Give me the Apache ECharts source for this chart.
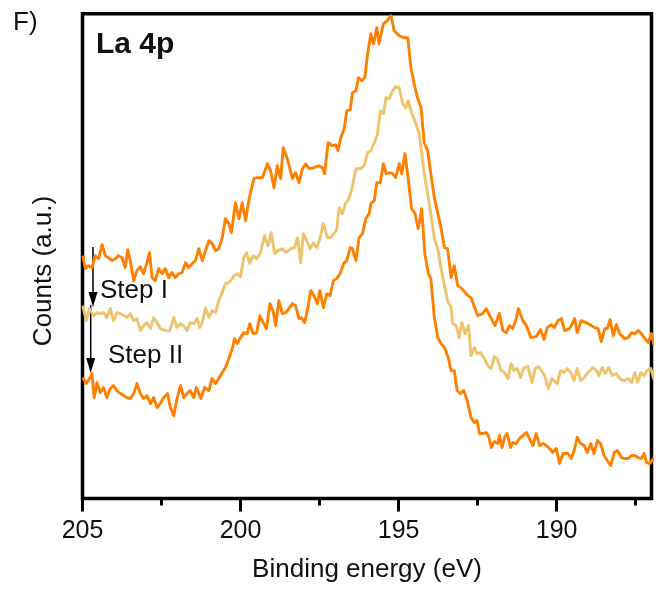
<!DOCTYPE html>
<html>
<head>
<meta charset="utf-8">
<script src="https://cdn.jsdelivr.net/npm/echarts@6/dist/echarts.min.js"></script>
<style>html,body{margin:0;padding:0;background:#fff}#c{width:656px;height:590px}</style>
</head>
<body>
<div id="c"></div>
<script>
// Binding energy (eV) and counts (a.u.)
const energyTop = [204.99,204.91,204.81,204.70,204.60,204.49,204.38,204.28,204.18,204.07,203.96,203.86,203.75,203.65,203.57,203.49,203.38,203.28,203.17,203.07,202.96,202.88,202.80,202.70,202.59,202.48,202.38,202.27,202.17,202.06,201.96,201.85,201.74,201.64,201.53,201.43,201.32,201.21,201.11,201.00,200.90,200.79,200.69,200.58,200.48,200.37,200.29,200.16,200.05,199.95,199.84,199.74,199.58,199.47,199.31,199.15,199.05,198.94,198.84,198.73,198.65,198.52,198.36,198.26,198.15,198.04,197.94,197.83,197.68,197.52,197.41,197.34,197.23,197.09,196.99,196.92,196.83,196.72,196.64,196.53,196.46,196.35,196.27,196.16,196.07,195.98,195.88,195.79,195.69,195.62,195.48,195.37,195.24,195.14,194.98,194.82,194.71,194.61,194.51,194.40,194.29,194.19,194.08,193.98,193.87,193.76,193.66,193.55,193.45,193.34,193.24,193.13,193.03,192.81,192.71,192.50,192.34,192.23,192.07,191.95,191.81,191.70,191.60,191.49,191.39,191.28,191.21,191.07,190.96,190.81,190.65,190.51,190.40,190.30,190.17,190.07,189.96,189.85,189.75,189.59,189.43,189.35,189.22,189.01,188.80,188.69,188.59,188.48,188.40,188.31,188.21,188.11,188.01,187.85,187.74,187.63,187.53,187.42,187.32,187.21,187.10,187.00,186.92];
const countsTop = [243,230,233,231,243,240,254,243,241,238,240,243,241,231,249,238,218,228,232,225,236,246,221,218,230,225,230,221,226,221,225,226,236,231,235,238,250,238,248,258,255,248,250,261,280,275,266,296,280,296,278,298,320,321,321,335,328,311,333,320,351,340,320,326,316,330,335,330,331,333,331,325,356,353,354,348,361,370,388,389,406,408,421,418,421,445,465,455,471,455,475,478,483,468,463,461,461,431,415,401,391,356,348,325,301,285,271,251,250,221,233,213,211,203,201,183,185,190,180,173,185,168,166,173,170,180,190,178,173,161,162,169,159,171,174,171,178,180,168,170,180,166,178,175,171,170,157,170,170,179,163,174,165,160,161,166,165,168,165,160,156,165,153];

const energyMid = [204.99,204.88,204.78,204.65,204.54,204.44,204.33,204.23,204.12,204.02,203.91,203.80,203.70,203.59,203.49,203.38,203.28,203.17,203.07,202.96,202.85,202.75,202.64,202.54,202.38,202.24,202.11,202.01,201.90,201.80,201.69,201.59,201.48,201.37,201.29,201.21,201.11,201.00,200.90,200.79,200.69,200.58,200.48,200.37,200.26,200.21,200.10,200.00,199.90,199.81,199.71,199.60,199.49,199.37,199.24,199.13,199.03,198.92,198.82,198.68,198.57,198.41,198.29,198.20,198.10,198.01,197.91,197.80,197.69,197.59,197.49,197.38,197.25,197.15,197.02,196.96,196.88,196.78,196.67,196.60,196.49,196.35,196.20,196.09,195.98,195.88,195.77,195.67,195.58,195.48,195.40,195.30,195.19,195.09,194.98,194.87,194.77,194.70,194.59,194.45,194.35,194.29,194.19,194.08,193.98,193.87,193.76,193.66,193.55,193.45,193.34,193.29,193.18,193.08,193.00,192.90,192.79,192.71,192.60,192.52,192.41,192.29,192.18,192.07,191.97,191.88,191.76,191.65,191.54,191.44,191.35,191.25,191.14,191.04,190.91,190.78,190.68,190.57,190.47,190.38,190.26,190.15,190.09,189.98,189.88,189.77,189.66,189.56,189.45,189.35,189.24,189.13,189.01,188.85,188.74,188.67,188.56,188.46,188.35,188.25,188.11,188.01,187.87,187.74,187.63,187.53,187.44,187.34,187.23,187.13,187.02,186.92];
const countsMid = [193,178,190,183,186,185,186,181,190,178,186,185,183,181,185,178,180,168,173,176,170,181,176,170,168,168,181,171,175,173,168,176,175,180,171,176,191,181,188,186,198,206,215,216,220,223,225,222,241,246,235,243,240,246,263,253,266,245,248,250,246,250,251,261,236,265,258,250,256,251,260,275,261,261,266,269,291,285,296,298,308,330,330,333,346,348,356,364,388,385,401,400,408,412,411,395,391,398,386,375,365,351,325,305,285,260,250,231,213,198,191,175,173,161,176,165,173,143,151,145,146,140,133,130,142,140,128,126,120,135,128,130,121,131,132,116,130,132,127,123,110,120,118,115,128,126,130,126,118,130,118,121,126,131,128,123,131,125,131,123,125,120,118,120,116,126,116,126,123,128,130,119];

const energyBot = [204.99,204.88,204.78,204.70,204.63,204.54,204.44,204.33,204.23,204.12,204.02,203.91,203.80,203.70,203.59,203.49,203.38,203.28,203.17,203.07,202.96,202.85,202.75,202.64,202.54,202.43,202.31,202.22,202.11,202.01,201.90,201.80,201.69,201.59,201.48,201.40,201.32,201.25,201.14,201.00,200.90,200.79,200.69,200.58,200.48,200.37,200.26,200.19,200.10,200.02,199.90,199.79,199.71,199.60,199.49,199.39,199.28,199.18,199.07,198.96,198.89,198.79,198.68,198.57,198.47,198.36,198.26,198.15,198.08,197.97,197.87,197.78,197.68,197.57,197.49,197.38,197.27,197.17,197.06,196.96,196.85,196.74,196.64,196.53,196.46,196.35,196.25,196.14,196.04,195.93,195.88,195.77,195.69,195.58,195.48,195.40,195.30,195.19,195.09,194.98,194.90,194.80,194.70,194.59,194.48,194.38,194.27,194.17,194.06,193.98,193.87,193.76,193.66,193.55,193.43,193.34,193.24,193.15,193.05,192.94,192.83,192.71,192.60,192.52,192.44,192.34,192.23,192.16,192.07,191.97,191.86,191.81,191.73,191.65,191.57,191.46,191.39,191.28,191.18,191.07,190.96,190.86,190.75,190.65,190.54,190.43,190.33,190.22,190.12,190.01,189.91,189.80,189.64,189.54,189.43,189.35,189.24,189.13,189.03,188.92,188.82,188.71,188.61,188.50,188.40,188.29,188.18,188.08,187.95,187.85,187.74,187.63,187.53,187.42,187.32,187.23,187.16,187.05,186.92];
const countsBot = [121,115,120,125,101,116,106,111,101,110,113,108,105,103,101,100,105,115,105,100,103,95,101,91,95,101,105,91,83,100,113,101,105,108,101,111,105,100,111,108,120,115,120,126,131,140,150,160,155,160,166,165,175,165,166,183,176,170,195,186,173,198,185,186,190,195,193,180,181,176,191,208,203,195,208,191,205,203,218,220,225,235,238,251,250,238,261,265,280,285,295,298,316,316,335,325,326,325,321,335,325,345,321,290,285,270,290,245,225,220,181,161,155,151,141,128,128,108,105,108,98,81,76,78,65,65,66,63,51,57,55,63,51,61,65,51,56,55,60,63,66,60,53,65,53,55,53,50,46,50,35,45,45,40,50,61,55,53,46,55,45,58,55,43,38,33,46,48,41,40,40,43,43,41,40,45,36,35,41];

const xTicks = [205, 200, 195, 190];
const xMinorTicks = [202.5, 197.5, 192.5, 187.5];

const FONT = '"Liberation Sans", Arial, Helvetica, sans-serif';
const dark = '#ff8000';
const light = '#edc36b';

function pairs(xs, ys) { return xs.map((x, i) => [x, ys[i]]); }

const chart = echarts.init(document.getElementById('c'), null, {renderer: 'canvas'});
chart.setOption({
  animation: false,
  backgroundColor: '#ffffff',
  grid: {left: 82.5, right: 4.5, top: 13.8, bottom: 91.5, show: true, borderColor: '#000', borderWidth: 3.5, backgroundColor: 'transparent'},
  xAxis: [{
    type: 'value', min: 187, max: 205, inverse: true,
    axisLine: {show: false},
    splitLine: {show: false},
    axisTick: {show: true, inside: false, length: 13, lineStyle: {color: '#000', width: 3}, customValues: xTicks},
    axisLabel: {show: true, margin: 20, fontSize: 25, color: '#111', fontFamily: FONT, customValues: xTicks},
    name: 'Binding energy (eV)', nameLocation: 'middle', nameGap: 58,
    nameTextStyle: {fontSize: 26, color: '#111', fontFamily: FONT}
  }, {
    type: 'value', min: 187, max: 205, inverse: true, position: 'bottom',
    axisLine: {show: false}, splitLine: {show: false},
    axisTick: {show: true, inside: false, length: 7, lineStyle: {color: '#000', width: 3}, customValues: xMinorTicks},
    axisLabel: {show: false}
  }],
  yAxis: {type: 'value', min: 0, max: 485, show: false},
  series: [
    {type: 'line', name: 'initial', data: pairs(energyTop, countsTop), showSymbol: false, lineStyle: {color: dark, width: 2.9, join: 'round'}, itemStyle: {color: dark}},
    {type: 'line', name: 'Step I', data: pairs(energyMid, countsMid), showSymbol: false, lineStyle: {color: light, width: 2.9, join: 'round'}, itemStyle: {color: light}},
    {type: 'line', name: 'Step II', data: pairs(energyBot, countsBot), showSymbol: false, lineStyle: {color: dark, width: 2.9, join: 'round'}, itemStyle: {color: dark}}
  ],
  graphic: [
    {type: 'text', x: 13, y: 23, style: {text: 'F)', font: '26px ' + FONT, fill: '#111', align: 'left', verticalAlign: 'middle'}},
    {type: 'text', x: 96, y: 45, style: {text: 'La 4p', font: 'bold 30px ' + FONT, fill: '#111', align: 'left', verticalAlign: 'middle'}},
    {type: 'text', x: 44, y: 271, rotation: Math.PI / 2, style: {text: 'Counts (a.u.)', font: '26px ' + FONT, fill: '#111', align: 'center', verticalAlign: 'middle'}},
    {type: 'text', x: 100, y: 291, style: {text: 'Step I', font: '26px ' + FONT, fill: '#111', align: 'left', verticalAlign: 'middle'}},
    {type: 'text', x: 108, y: 356, style: {text: 'Step II', font: '26px ' + FONT, fill: '#111', align: 'left', verticalAlign: 'middle'}},
    {type: 'line', shape: {x1: 93, y1: 247, x2: 93, y2: 295}, style: {stroke: '#000', lineWidth: 1.5}},
    {type: 'polygon', shape: {points: [[88.5, 292], [97.5, 292], [93, 307]]}, style: {fill: '#000'}},
    {type: 'line', shape: {x1: 90.7, y1: 305, x2: 90.7, y2: 360}, style: {stroke: '#000', lineWidth: 1.5}},
    {type: 'polygon', shape: {points: [[86.2, 358], [95.2, 358], [90.7, 373]]}, style: {fill: '#000'}}
  ]
});
</script>
</body>
</html>
